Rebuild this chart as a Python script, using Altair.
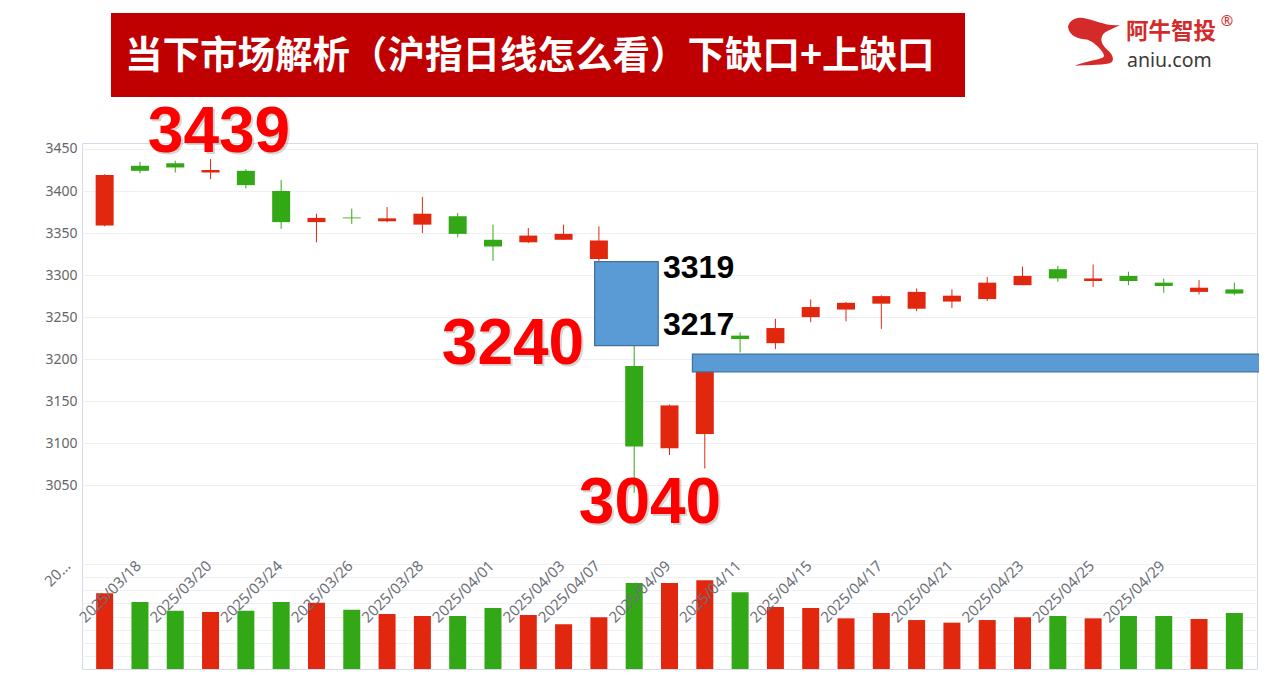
import altair as alt
import pandas as pd

# ---------------- data ----------------
dates = ["2025/03/14", "2025/03/17", "2025/03/18", "2025/03/19", "2025/03/20", "2025/03/21",
         "2025/03/24", "2025/03/25", "2025/03/26", "2025/03/27", "2025/03/28", "2025/03/31",
         "2025/04/01", "2025/04/02", "2025/04/03", "2025/04/07", "2025/04/08", "2025/04/09",
         "2025/04/10", "2025/04/11", "2025/04/14", "2025/04/15", "2025/04/16", "2025/04/17",
         "2025/04/18", "2025/04/21", "2025/04/22", "2025/04/23", "2025/04/24", "2025/04/25",
         "2025/04/28", "2025/04/29", "2025/04/30"]
opens = [3359, 3430, 3433, 3422, 3424, 3400, 3363, 3368.5, 3364, 3360, 3370, 3342,
         3339, 3342, 3319, 3192, 3094, 3111, 3228, 3219, 3250, 3259, 3266, 3260,
         3268.5, 3271.5, 3288, 3307, 3293, 3299, 3291, 3280, 3283]
highs = [3420, 3434.6, 3436, 3438, 3426, 3413, 3373, 3379, 3381, 3393, 3374, 3360,
         3356, 3360, 3358, 3218, 3146, 3194, 3232, 3248, 3271, 3268, 3276, 3284,
         3283, 3298, 3310, 3311, 3312.6, 3304, 3296, 3294, 3291]
lows = [3358, 3421, 3422, 3414, 3403, 3355, 3339, 3361, 3363, 3350, 3345, 3317,
        3338, 3342, 3317, 3041, 3086, 3070, 3208, 3212, 3244, 3245, 3236, 3257,
        3261, 3269, 3288, 3292, 3286, 3288, 3279, 3277, 3276]
closes = [3419, 3424, 3428, 3425, 3407, 3363, 3368, 3367.5, 3367.5, 3373, 3349, 3334,
          3347, 3349, 3341, 3096, 3145, 3186, 3224, 3237, 3262, 3267, 3275, 3280,
          3275.5, 3291, 3299, 3296, 3296, 3293, 3287, 3285, 3278]
volumes = [577, 510, 444, 434, 444, 510, 505, 452, 419, 404, 404, 465, 411, 341, 394, 655,
           655, 676, 584, 472, 465, 386, 427, 373, 353, 373, 394, 404, 386, 404, 404, 381, 427]

shown_dates = ["2025/03/14", "2025/03/18", "2025/03/20", "2025/03/24", "2025/03/26",
               "2025/03/28", "2025/04/01", "2025/04/03", "2025/04/07", "2025/04/09",
               "2025/04/11", "2025/04/15", "2025/04/17", "2025/04/21", "2025/04/23",
               "2025/04/25", "2025/04/29"]

# gaps: (first date, last date, upper price, lower price)
gap_from = ["2025/04/03", "2025/04/09"]
gap_to = ["2025/04/07", "2025/04/30"]
gap_top = [3316, 3206]
gap_bottom = [3216, 3185]

title_text = "当下市场解析（沪指日线怎么看）下缺口+上缺口"
big_labels = ["3439", "3240", "3040"]
gap_labels = ["3319", "3217"]

# ---------------- styling ----------------
RED = "#e2270f"
GREEN = "#33a817"
W, H = 1175, 526
FRAME = "#d3dbeb"
GRID = "#eef0f4"

n = len(dates)
df = pd.DataFrame({"date": dates, "open": opens, "high": highs, "low": lows,
                   "close": closes, "vol": volumes})
df["pos"] = df.index + 0.5
df["dir"] = ["up" if c >= o else "down" for o, c in zip(opens, closes)]

x_scale = alt.Scale(domain=[0, n], nice=False, zero=False)
price_scale = alt.Scale(domain=[3030, 3457.1], range=[359.1, 0], nice=False, zero=False)
vol_scale = alt.Scale(domain=[0, 800], range=[526, 421], nice=False, zero=True)
color = alt.Color("dir:N", scale=alt.Scale(domain=["up", "down"], range=[RED, GREEN]), legend=None)
X = alt.X("pos:Q", scale=x_scale, axis=None)

price_axis = alt.Axis(values=[3050, 3100, 3150, 3200, 3250, 3300, 3350, 3400, 3450],
                      format="d", grid=True, gridColor=GRID, domain=False, ticks=False,
                      tickSize=0, labelPadding=5, labelColor="#666666", labelFont="Noto Sans",
                      labelFontSize=14, title=None)
vol_axis = alt.Axis(values=[100, 200, 300, 400, 500, 600, 700, 800], grid=True, gridColor=GRID,
                    labels=False, ticks=False, domain=False, title=None)

base = alt.Chart(df)

wicks = base.mark_rule(strokeWidth=1).encode(
    x=X, y=alt.Y("low:Q", scale=price_scale, axis=price_axis), y2="high:Q", color=color)
bodies = base.mark_bar(size=18).encode(
    x=X, y=alt.Y("open:Q", scale=price_scale, axis=None), y2="close:Q", color=color)
vols = base.mark_bar(size=17).encode(
    x=X, y=alt.Y("vol:Q", scale=vol_scale, axis=vol_axis), color=color)

# date labels (offset of -37px to the left; dx/dy act in the rotated frame)
lab = pd.DataFrame({"date": shown_dates})
lab["pos"] = [dates.index(d) + 0.5 for d in shown_dates]
lab["text"] = [d if i > 0 else d[:2] + "..." for i, d in enumerate(shown_dates)]
date_labels = alt.Chart(lab).mark_text(
    angle=315, align="right", baseline="middle", dx=-27, dy=-25, font="Noto Sans",
    fontSize=15, color="#6e7079").encode(x=X, y=alt.value(419), text="text:N")

# gap boxes
gaps = pd.DataFrame({"top": gap_top, "bottom": gap_bottom})
gaps["x0"] = [dates.index(gap_from[0]) + 0.38, dates.index(gap_from[1]) + 0.15]
gaps["x1"] = [dates.index(gap_to[0]) + 1.18, n + 0.3]
gap_boxes = alt.Chart(gaps).mark_rect(fill="#5b9bd5", stroke="#41719c", strokeWidth=1.3).encode(
    x=alt.X("x0:Q", scale=x_scale, axis=None), x2="x1:Q",
    y=alt.Y("top:Q", scale=price_scale, axis=None), y2="bottom:Q")

# big red annotations
big = pd.DataFrame({"t": big_labels, "px": [219 - 82, 513 - 82, 650 - 82],
                    "py": [152 - 143, 364 - 143, 523 - 143]})
big_shadow = alt.Chart(big).mark_text(
    font="Liberation Sans", fontWeight="bold", fontSize=64, align="center",
    baseline="alphabetic", color="#888888", opacity=0.35, dx=2, dy=2).encode(
    x=alt.X("px:Q", scale=None), y=alt.Y("py:Q", scale=None), text="t:N")
big_text = alt.Chart(big).mark_text(
    font="Liberation Sans", fontWeight="bold", fontSize=64, align="center",
    baseline="alphabetic", color="#ff0000").encode(
    x=alt.X("px:Q", scale=None), y=alt.Y("py:Q", scale=None), text="t:N")

gl = pd.DataFrame({"t": gap_labels, "px": [663 - 82, 663 - 82], "py": [278 - 143, 335 - 143]})
gap_text = alt.Chart(gl).mark_text(
    font="Liberation Sans", fontWeight="bold", fontSize=32, align="left",
    baseline="alphabetic", color="#000000").encode(
    x=alt.X("px:Q", scale=None), y=alt.Y("py:Q", scale=None), text="t:N")

# title banner
one = pd.DataFrame({"t": [title_text]})
banner = alt.Chart(one).mark_rect(color="#c00000").encode(
    x=alt.value(29), x2=alt.value(883), y=alt.value(-130), y2=alt.value(-46))
banner_text = alt.Chart(one).mark_text(
    font="Noto Sans CJK SC", fontWeight="bold", fontSize=37.5, align="left",
    baseline="middle", color="#ffffff").encode(x=alt.value(43), y=alt.value(-86), text="t:N")

# logo
swoosh_path = ("M -0.96 -0.6 C -0.9 -0.95 -0.5 -1.0 -0.36 -0.96 C 0.1 -0.9 0.6 -0.6 1.12 -0.68 "
               "C 0.8 -0.5 0.55 -0.45 0.44 -0.3 C 0.3 -0.1 0.4 0.1 0.6 0.3 C 0.9 0.55 0.9 0.8 0.7 0.85 "
               "C 0.3 0.95 -0.3 0.9 -0.68 0.96 C -0.4 0.8 0.1 0.75 0.44 0.62 C 0.55 0.55 0.4 0.35 0.25 0.2 "
               "C 0.1 0.05 -0.05 -0.05 -0.2 -0.1 C -0.5 -0.12 -0.9 -0.2 -0.96 -0.6 Z")
logo_mark = alt.Chart(one).mark_point(shape=swoosh_path, filled=True, size=2500, color="#d42a2a",
                                      opacity=1, strokeWidth=0).encode(
    x=alt.value(1010), y=alt.value(-101))
logo_cn = alt.Chart(pd.DataFrame({"t": ["阿牛智投"]})).mark_text(
    font="Noto Sans CJK SC", fontSize=22.5, fontWeight="bold", align="left", baseline="middle",
    color="#d42a2a").encode(x=alt.value(1044), y=alt.value(-111), text="t:N")
logo_r = alt.Chart(pd.DataFrame({"t": ["®"]})).mark_text(
    font="Noto Sans", fontSize=15, align="center", baseline="middle", color="#d42a2a").encode(
    x=alt.value(1145), y=alt.value(-122), text="t:N")
logo_en = alt.Chart(pd.DataFrame({"t": ["aniu.com"]})).mark_text(
    font="Noto Sans", fontSize=19.5, align="left", baseline="alphabetic", color="#3a3a3a").encode(
    x=alt.value(1045), y=alt.value(-76), text="t:N")

chart = alt.layer(
    wicks, vols, bodies, date_labels, gap_boxes, big_shadow, big_text, gap_text,
    banner, banner_text, logo_mark, logo_cn, logo_r, logo_en
).resolve_scale(y="independent").properties(
    width=W, height=H,
    padding={"left": 74, "top": 135, "right": 2, "bottom": 2},
    autosize=alt.AutoSizeParams(type="none"),
    background="white",
).configure_view(stroke=FRAME, strokeWidth=1)

chart.save("out.html", embed_options={"renderer": "svg", "actions": False})
